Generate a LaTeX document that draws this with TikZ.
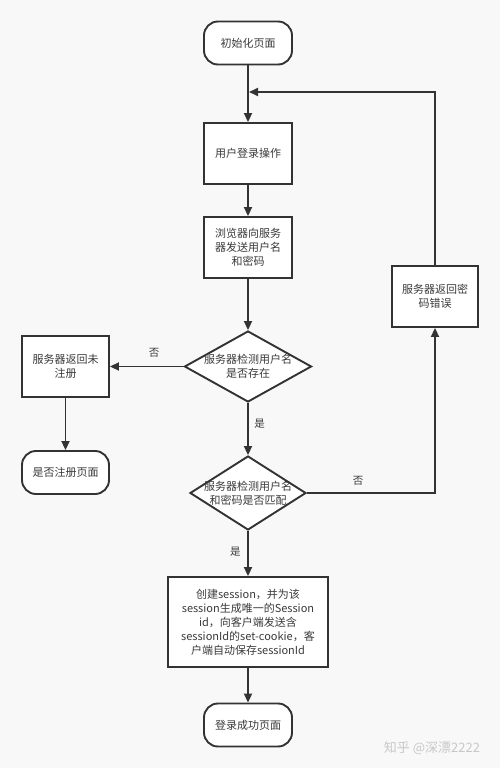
\documentclass[tikz,border=0pt]{standalone}
\usepackage{fontspec}
\setmainfont{Noto Sans CJK SC}
\usetikzlibrary{arrows.meta,shapes.geometric}
\definecolor{bg}{HTML}{F8F8F8}
\definecolor{ink}{HTML}{333333}
\definecolor{txt}{HTML}{3A3A3A}
\definecolor{wm}{HTML}{C8C8C8}
\begin{document}
\begin{tikzpicture}[x=1pt,y=-1pt,
  every node/.style={font=\fontsize{11}{14}\selectfont, text=txt},
  box/.style={draw=ink, line width=1.9pt, fill=white, minimum width=88pt, minimum height=61pt, align=center, inner sep=2pt},
  term/.style={draw=ink, line width=1.9pt, fill=white, rounded corners=14pt, minimum width=88pt, minimum height=43pt, align=center},
  dia/.style={draw=ink, line width=1.9pt, fill=white, diamond, inner sep=0pt},
  arr/.style={draw=ink, line width=1.9pt, -{Triangle[length=9pt,width=8pt]}},
  lbl/.style={font=\fontsize{10.5}{12}\selectfont}
]
\fill[bg] (0,0) rectangle (500,768);
\useasboundingbox (0,0) rectangle (500,768);

\node[term] (start) at (248,43) {初始化页面};
\node[box] (login) at (248,153.5) {用户登录操作};
\node[box] (send) at (248,247.5) {浏览器向服务\\器发送用户名\\和密码};
\node[box, minimum width=86pt] (pwderr) at (435,296.5) {服务器返回密\\码错误};

\node[dia, minimum width=127pt, minimum height=71pt] (d1) at (248,366.5) {};
\node[align=center] (d1t) at (d1.center) {服务器检测用户名\\是否存在};

\node[box, minimum width=87pt] (unreg) at (65.5,366.5) {服务器返回未\\注册};
\node[term, minimum width=87pt] (regpage) at (65.5,472.5) {是否注册页面};

\node[dia, minimum width=116pt, minimum height=74pt] (d2) at (248,493) {};
\node[align=center] (d2t) at (d2.center) {服务器检测用户名\\和密码是否匹配};

\node[box, minimum width=160pt, minimum height=90pt] (sess) at (248,622) {创建session，并为该\\session生成唯一的Session\\id，向客户端发送含\\sessionId的set-cookie，客\\户端自动保存sessionId};
\node[term] (succ) at (248,725) {登录成功页面};

\coordinate (join) at (249,92);

\draw[arr] (start) -- (login);
\draw[arr] (login) -- (send);
\draw[arr] (send) -- (d1);
\draw[arr] (d1) -- node[lbl, above=5pt, pos=0.4] (no1) {否} (unreg);
\draw[arr] (unreg) -- (regpage);
\draw[arr] (d1) -- node[lbl, right=2pt, pos=0.4] (yes1) {是} (d2);
\draw[arr] (d2.east) -- node[lbl, above=3pt, pos=0.4] (no2) {否} (d2.east -| pwderr) -- (pwderr);
\draw[arr] (pwderr) -- (pwderr |- join) -- (join);
\draw[arr] (d2) -- node[lbl, left=3pt, pos=0.45] (yes2) {是} (sess);
\draw[arr] (sess) -- (succ);

\node[text=wm, font=\fontsize{13}{14}\selectfont] (wmark) at (432,748) {知乎 @深漂2222};
\end{tikzpicture}
\end{document}
